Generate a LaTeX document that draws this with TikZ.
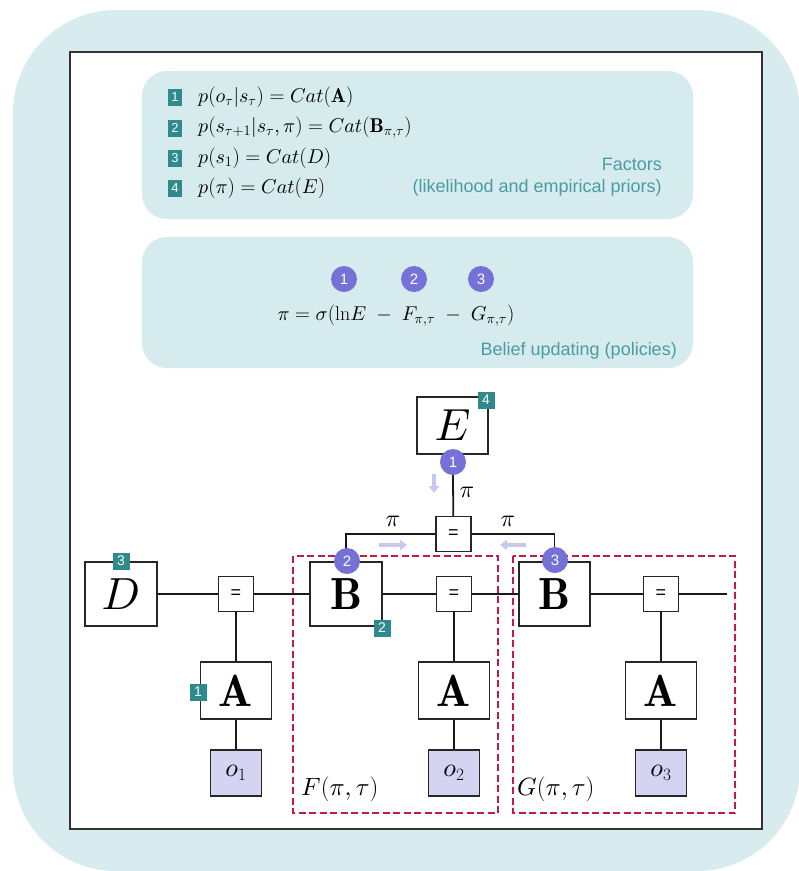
\documentclass[tikz,border=0pt]{standalone}
\usepackage{fontspec}
\usepackage{amsmath}
\DeclareFontShape{OML}{cmm}{m}{it}{<-6>cmmi5<6-8>cmmi7<8->cmmi10}{}
\DeclareFontShape{OML}{cmm}{b}{it}{<-6>cmmib5<6-8>cmmib7<8->cmmib10}{}
\DeclareFontShape{OMS}{cmsy}{m}{n}{<-6>cmsy5<6-8>cmsy7<8->cmsy10}{}
\DeclareFontShape{OMX}{cmex}{m}{n}{<->cmex10}{}
\newfontfamily\arial{Liberation Sans}
\usetikzlibrary{arrows.meta}
\definecolor{bgblue}{HTML}{D8ECEF}
\definecolor{panel}{HTML}{D6EBEE}
\definecolor{tealtxt}{HTML}{4A9C9F}
\definecolor{badgecol}{HTML}{2E8A8C}
\definecolor{purp}{HTML}{7571D6}
\definecolor{lav}{HTML}{D4D3F2}
\definecolor{lavarr}{HTML}{C8C8EE}
\definecolor{dred}{HTML}{C2184A}
\tikzset{
  fbox/.style={draw=black!85, line width=1.3pt, fill=white, inner sep=0pt, font=\fontsize{45}{45}\selectfont},
  eqbox/.style={draw=black!85, line width=1.3pt, fill=white, inner sep=0pt, minimum width=35pt, minimum height=35pt, font=\arial\fontsize{18}{18}\selectfont},
  obox/.style={draw=black!85, line width=1.3pt, fill=lav, inner sep=0pt, minimum width=51pt, minimum height=46pt, font=\fontsize{26}{26}\selectfont},
  badge/.style={fill=badgecol, text=white, inner sep=0pt, minimum width=17pt, minimum height=17pt, font=\arial\fontsize{14}{14}\selectfont},
  fbadge/.style={fill=badgecol, text=white, inner sep=0pt, minimum width=14pt, minimum height=17pt, font=\arial\fontsize{13}{13}\selectfont},
  pcirc/.style={circle, fill=purp, text=white, inner sep=0pt, minimum size=26pt, font=\arial\fontsize{15}{15}\selectfont},
  conn/.style={black!90, line width=1.8pt},
  lavarrow/.style={lavarr, line width=3.2pt, -{Triangle[length=7pt,width=10pt]}},
  redbox/.style={dred, line width=2pt, dash pattern=on 7pt off 3.5pt},
  panelbox/.style={fill=panel, rounded corners=25pt},
  lbl/.style={inner sep=0pt, font=\fontsize{24}{24}\selectfont},
  captxt/.style={text=tealtxt, inner sep=0pt, font=\arial\fontsize{18}{20}\selectfont, anchor=east},
  eqtxt/.style={inner sep=0pt, anchor=west, font=\fontsize{20}{22}\selectfont}
}
\begin{document}
\begin{tikzpicture}[x=1pt,y=-1pt]
\useasboundingbox (0,0) rectangle (799,871);
% background
\fill[bgblue, rounded corners=103pt] (13,10) rectangle (800,871);
\draw[black!80, line width=1.3pt, fill=white] (70,52) rectangle (762,829);
% panels
\fill[panelbox] (142,71) rectangle (693,219);
\fill[panelbox] (142,237) rectangle (693,368);
% factors
\node[fbadge] (f1) at (175,97) {1};
\node[fbadge] (f2) at (175,128) {2};
\node[fbadge] (f3) at (175,158) {3};
\node[fbadge] (f4) at (175,188) {4};
\node[eqtxt] (e1) at (198,97) {$p(o_\tau|s_\tau) = Cat(\mathbf{A})$};
\node[eqtxt] (e2) at (198,128) {$p(s_{\tau+1}|s_\tau,\pi) = Cat(\mathbf{B}_{\pi,\tau})$};
\node[eqtxt] (e3) at (198,158) {$p(s_1) = Cat(D)$};
\node[eqtxt] (e4) at (198,188) {$p(\pi) = Cat(E)$};
\node[captxt] (c1) at (662,164) {Factors};
\node[captxt] (c2) at (662,188) {(likelihood and empirical priors)};
% belief updating
\node[pcirc] (b1) at (344,279) {1};
\node[pcirc] (b2) at (414,279) {2};
\node[pcirc] (b3) at (481,279) {3};
\node[inner sep=0pt, font=\fontsize{20}{22}\selectfont] (beq) at (396,316) {$\pi = \sigma(\ln\!E \;-\; F_{\pi,\tau} \;-\; G_{\pi,\tau})$};
\node[captxt] (c3) at (677,351) {Belief updating (policies)};
% red dashed regions
\draw[redbox] (293,556) rectangle (498,813);
\draw[redbox] (513,556) rectangle (735,813);
% nodes
\node[fbox, minimum width=71pt, minimum height=57pt] (E) at (452.5,425.5) {$E$};
\node[eqbox] (q0) at (453.5,534) {=};
\node[fbox, minimum width=72pt, minimum height=64pt] (D) at (121,594) {$D$};
\node[eqbox] (q1) at (236,594) {=};
\node[fbox, minimum width=72pt, minimum height=64pt] (B1) at (346,594) {$\mathbf{B}$};
\node[eqbox] (q2) at (454,594) {=};
\node[fbox, minimum width=71pt, minimum height=64pt] (B2) at (554.5,594) {$\mathbf{B}$};
\node[eqbox] (q3) at (661,594) {=};
\coordinate (endR) at (727,594);
\node[fbox, minimum width=71pt, minimum height=57pt] (A1) at (236,690.5) {$\mathbf{A}$};
\node[fbox, minimum width=71pt, minimum height=57pt] (A2) at (454,690.5) {$\mathbf{A}$};
\node[fbox, minimum width=71pt, minimum height=57pt] (A3) at (661,690.5) {$\mathbf{A}$};
\node[obox] (o1) at (236,773) {$o_1$};
\node[obox] (o2) at (454,773) {$o_2$};
\node[obox] (o3) at (661,773) {$o_3$};
% connectors
\draw[conn] (E) -- (q0);
\draw[conn] (q0.west) -| (B1.north);
\draw[conn] (q0.east) -| (B2.north);
\draw[conn] (D) -- (q1);
\draw[conn] (q1) -- (B1);
\draw[conn] (B1) -- (q2);
\draw[conn] (q2) -- (B2);
\draw[conn] (B2) -- (q3);
\draw[conn] (q3) -- (endR);
\draw[conn] (q1) -- (A1);
\draw[conn] (A1) -- (o1);
\draw[conn] (q2) -- (A2);
\draw[conn] (A2) -- (o2);
\draw[conn] (q3) -- (A3);
\draw[conn] (A3) -- (o3);
% labels
\node[lbl] (pi0) at (467,492) {$\pi$};
\node[lbl] (pi1) at (393,521) {$\pi$};
\node[lbl] (pi2) at (508,521) {$\pi$};
\draw[lavarrow] (434,474) -- (434,493);
\draw[lavarrow] (379,545) -- (407,545);
\draw[lavarrow] (526,545) -- (500,545);
\node[inner sep=0pt, anchor=west, font=\fontsize{25}{25}\selectfont] (Fl) at (301,789) {$F(\pi,\tau)$};
\node[inner sep=0pt, anchor=west, font=\fontsize{25}{25}\selectfont] (Gl) at (517,789) {$G(\pi,\tau)$};
% markers
\node[pcirc] (m1) at (453,462) {1};
\node[pcirc] (m2) at (347,561) {2};
\node[pcirc] (m3) at (555,560) {3};
\node[badge] (k4) at (486,400) {4};
\node[badge] (k3) at (121,561) {3};
\node[badge] (k2) at (382,628) {2};
\node[badge] (k1) at (198,692) {1};
\end{tikzpicture}
\end{document}
